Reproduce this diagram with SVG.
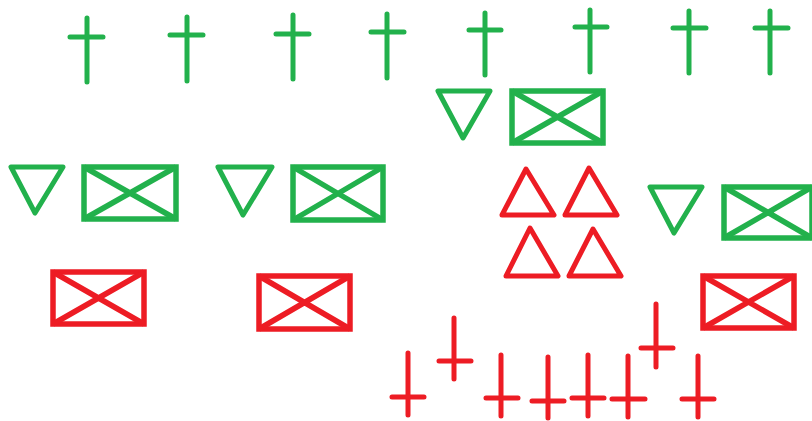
<svg xmlns="http://www.w3.org/2000/svg" width="812" height="421" viewBox="0 0 812 421">
<style>
.g{stroke:#22b14c;fill:none}
.r{stroke:#ed1c24;fill:none}
.x{stroke-width:5;stroke-linecap:round}
.t{stroke-width:5;stroke-linejoin:round;stroke-linecap:round}
.b{stroke-width:5.5;stroke-linejoin:miter}
</style>
<rect width="812" height="421" fill="#ffffff"/>
<defs>
<g id="box"><rect x="0" y="0" width="91" height="52"/><path d="M0 0L91 52M91 0L0 52"/></g>
</defs>
<!-- green crosses -->
<g id="gc1" class="g x"><path d="M87 18V82M70 37H103"/></g>
<g id="gc2" class="g x"><path d="M187 17V81M170 35H203"/></g>
<g id="gc3" class="g x"><path d="M293 15V79M276 34H309"/></g>
<g id="gc4" class="g x"><path d="M387 14V78M371 32H404"/></g>
<g id="gc5" class="g x"><path d="M485 13V75M469 30H501"/></g>
<g id="gc6" class="g x"><path d="M590 10V72M575 27H607"/></g>
<g id="gc7" class="g x"><path d="M689 11V73M673 28H706"/></g>
<g id="gc8" class="g x"><path d="M770 11V73M755 28H788"/></g>
<!-- green triangles -->
<g id="gt1" class="g t"><path d="M438 91H490L463 138Z"/></g>
<g id="gt2" class="g t"><path d="M11 167H63L35 213Z"/></g>
<g id="gt3" class="g t"><path d="M218 167H272L243 215Z"/></g>
<g id="gt4" class="g t"><path d="M650 187H702L674 233Z"/></g>
<!-- green boxes -->
<g id="gb1" class="g b"><rect x="512" y="91" width="91" height="52"/><path d="M512 91L603 143M603 91L512 143"/></g>
<g id="gb2" class="g b"><rect x="84" y="167" width="92" height="52"/><path d="M84 167L176 219M176 167L84 219"/></g>
<g id="gb3" class="g b"><rect x="293" y="167" width="90" height="53"/><path d="M293 167L383 220M383 167L293 220"/></g>
<g id="gb4" class="g b"><rect x="724" y="187" width="88" height="51"/><path d="M724 187L812 238M812 187L724 238"/></g>
<!-- red triangles -->
<g id="rt1" class="r t"><path d="M526 169L554 215H502Z"/></g>
<g id="rt2" class="r t"><path d="M589 168L617 215H565Z"/></g>
<g id="rt3" class="r t"><path d="M530 228L558 276H506Z"/></g>
<g id="rt4" class="r t"><path d="M593 229L621 276H569Z"/></g>
<!-- red boxes -->
<g id="rb1" class="r b"><rect x="53" y="272" width="91" height="52"/><path d="M53 272L144 324M144 272L53 324"/></g>
<g id="rb2" class="r b"><rect x="259" y="276" width="91" height="53"/><path d="M259 276L350 329M350 276L259 329"/></g>
<g id="rb3" class="r b"><rect x="703" y="276" width="91" height="52"/><path d="M703 276L794 328M794 276L703 328"/></g>
<!-- red crosses -->
<g id="rc1" class="r x"><path d="M408 353V415M392 397H424"/></g>
<g id="rc2" class="r x"><path d="M454 318V379M439 361H471"/></g>
<g id="rc3" class="r x"><path d="M501 355V416M486 398H518"/></g>
<g id="rc4" class="r x"><path d="M548 357V418M532 401H564"/></g>
<g id="rc5" class="r x"><path d="M588 355V416M572 398H604"/></g>
<g id="rc6" class="r x"><path d="M628 356V417M612 399H645"/></g>
<g id="rc7" class="r x"><path d="M656 304V367M641 348H673"/></g>
<g id="rc8" class="r x"><path d="M698 356V417M682 399H714"/></g>
</svg>
